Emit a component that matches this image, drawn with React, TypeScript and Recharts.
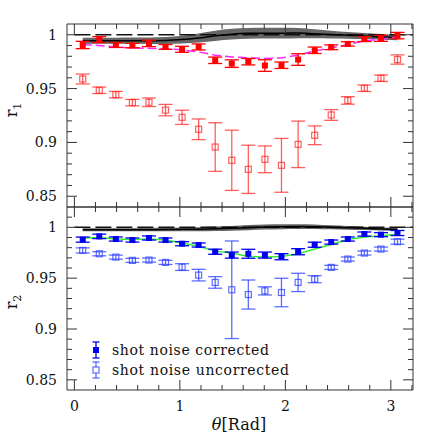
import {
  ComposedChart,
  XAxis,
  YAxis,
  Scatter,
  Line,
  Area,
  ErrorBar,
  ReferenceLine,
} from "recharts";

// angle bins (rad)
const theta = [
  0.079, 0.236, 0.393, 0.55, 0.707, 0.864, 1.021, 1.178, 1.335, 1.492,
  1.649, 1.806, 1.963, 2.121, 2.278, 2.435, 2.592, 2.749, 2.906, 3.063,
];

// r1 panel
const r1Corr = [
  0.9905, 0.9955, 0.9905, 0.99, 0.992, 0.9887, 0.9865, 0.9887, 0.9763, 0.9732,
  0.975, 0.9714, 0.9717, 0.977, 0.9856, 0.9884, 0.9915, 0.996, 0.9967, 0.9992,
];
const r1CorrErr = [
  0.0034, 0.0028, 0.0023, 0.002, 0.003, 0.0022, 0.0028, 0.0028, 0.003, 0.0035,
  0.003, 0.0054, 0.003, 0.0054, 0.003, 0.0022, 0.002, 0.0023, 0.0028, 0.003,
];
const r1Uncorr = [
  0.9589, 0.9484, 0.9444, 0.937, 0.9373, 0.93, 0.9233, 0.9122, 0.8957, 0.8834,
  0.875, 0.8843, 0.8787, 0.8982, 0.9066, 0.9255, 0.939, 0.9503, 0.9596, 0.977,
];
const r1UncorrErr = [
  0.0046, 0.003, 0.003, 0.003, 0.004, 0.0053, 0.0066, 0.0096, 0.0226, 0.028,
  0.0224, 0.0124, 0.025, 0.0216, 0.0087, 0.005, 0.0035, 0.003, 0.003, 0.0043,
];
const r1Fit = [
  0.991, 0.99, 0.9887, 0.9877, 0.9875, 0.987, 0.986, 0.984, 0.981, 0.9794,
  0.9785, 0.978, 0.9785, 0.9812, 0.985, 0.9877, 0.991, 0.9943, 0.996, 0.998,
];
const r1Model = [
  0.9945, 0.9945, 0.9945, 0.9945, 0.9945, 0.9947, 0.9955, 0.997, 0.999, 1.0005,
  1.0013, 1.0015, 1.0015, 1.0016, 1.0009, 1.0002, 0.9995, 0.9988, 0.998, 0.9974,
];
const r1ModelErr = [
  0.0028, 0.0028, 0.0028, 0.0029, 0.003, 0.0032, 0.0036, 0.0042, 0.0047, 0.005,
  0.005, 0.005, 0.005, 0.0048, 0.0042, 0.0036, 0.0031, 0.0028, 0.0026, 0.0025,
];

// r2 panel
const r2Corr = [
  0.9879, 0.9911, 0.9885, 0.9875, 0.9895, 0.9875, 0.9839, 0.9826, 0.976, 0.9727,
  0.974, 0.9727, 0.9711, 0.976, 0.9829, 0.9855, 0.9885, 0.9934, 0.9928, 0.9944,
];
const r2CorrErr = [
  0.0025, 0.0022, 0.002, 0.002, 0.002, 0.002, 0.002, 0.002, 0.0025, 0.003,
  0.0044, 0.003, 0.003, 0.003, 0.0025, 0.002, 0.002, 0.002, 0.002, 0.0025,
];
const r2Uncorr = [
  0.9773, 0.974, 0.9707, 0.9675, 0.9678, 0.9655, 0.9609, 0.953, 0.9458, 0.9386,
  0.9339, 0.9375, 0.9359, 0.9458, 0.949, 0.9606, 0.9688, 0.9747, 0.9786, 0.9859,
];
const r2UncorrErr = [
  0.0025, 0.002, 0.002, 0.002, 0.002, 0.002, 0.0033, 0.0057, 0.0057, 0.048,
  0.0143, 0.004, 0.014, 0.009, 0.0035, 0.002, 0.002, 0.002, 0.002, 0.0025,
];
const r2Fit = [
  0.9895, 0.99, 0.9885, 0.988, 0.9885, 0.9875, 0.9845, 0.9813, 0.9766, 0.9747,
  0.9714, 0.9708, 0.9714, 0.974, 0.9786, 0.9832, 0.988, 0.9905, 0.9918, 0.9931,
];
const r2Model = [
  0.9977, 0.9977, 0.9977, 0.9977, 0.9977, 0.9978, 0.998, 0.9982, 0.9986, 0.999,
  0.9997, 1.0003, 1.0006, 1.0007, 1.0006, 1.0, 0.9995, 0.999, 0.9983, 0.9978,
];
const r2ModelErr = [
  0.0015, 0.0015, 0.0015, 0.0015, 0.0016, 0.0017, 0.0018, 0.002, 0.0022, 0.0024,
  0.0025, 0.0025, 0.0025, 0.0024, 0.0022, 0.002, 0.0018, 0.0016, 0.0015, 0.0015,
];

// axes
const xTicks = [0, 0.2, 0.4, 0.6, 0.8, 1, 1.2, 1.4, 1.6, 1.8, 2, 2.2, 2.4, 2.6, 2.8, 3, 3.2];
const xLabels = [0, 1, 2, 3];
const yTicksTop = [
  0.85, 0.86, 0.87, 0.88, 0.89, 0.9, 0.91, 0.92, 0.93, 0.94, 0.95, 0.96, 0.97,
  0.98, 0.99, 1,
];
const yTicksBottom = [...yTicksTop, 1.01];
const yLabels = [0.85, 0.9, 0.95, 1];
const xDomain = [-0.07, 3.21];
const unitySegment = [
  { x: 0, y: 1 },
  { x: 3.21, y: 1 },
];

const data1 = theta.map((x, i) => ({
  x,
  corr: r1Corr[i],
  corrErr: r1CorrErr[i],
  uncorr: r1Uncorr[i],
  uncorrErr: r1UncorrErr[i],
  fit: r1Fit[i],
  mid: r1Model[i],
  band: [r1Model[i] - r1ModelErr[i], r1Model[i] + r1ModelErr[i]],
}));

const data2 = theta.map((x, i) => ({
  x,
  corr: r2Corr[i],
  corrErr: r2CorrErr[i],
  uncorr: r2Uncorr[i],
  uncorrErr: r2UncorrErr[i],
  fit: r2Fit[i],
  mid: r2Model[i],
  band: [r2Model[i] - r2ModelErr[i], r2Model[i] + r2ModelErr[i]],
}));

const AXIS = "#333";
const FONT = "'DejaVu Serif', serif";

type Side = "left" | "right" | "top" | "bottom";

function tickFor(side: Side, majors: number[], showLabels: boolean) {
  return (props: any) => {
    const { x, y, payload } = props;
    const v = payload.value as number;
    const major = majors.some((m) => Math.abs(m - v) < 1e-6);
    const len = major ? 10 : 5;
    let x2 = x;
    let y2 = y;
    if (side === "left") x2 = x + len;
    if (side === "right") x2 = x - len;
    if (side === "top") y2 = y + len;
    if (side === "bottom") y2 = y - len;
    return (
      <g>
        <line x1={x} y1={y} x2={x2} y2={y2} stroke={AXIS} strokeWidth={1} />
        {showLabels && major && side === "left" && (
          <text x={x - 10} y={y} textAnchor="end" dominantBaseline="central"
            fontFamily={FONT} fontSize={14} fill="#111">
            {String(v)}
          </text>
        )}
        {showLabels && major && side === "bottom" && (
          <text x={x} y={y + 16} textAnchor="middle" dominantBaseline="central"
            fontFamily={FONT} fontSize={14} fill="#111">
            {String(v)}
          </text>
        )}
      </g>
    );
  };
}

// height/width must be > 0 or recharts skips the axis
function axes(yDomain: number[], yTicks: number[], xLabelsOn: boolean) {
  return [
    <XAxis key="xb" xAxisId="b" dataKey="x" type="number" domain={xDomain}
      allowDataOverflow ticks={xTicks} interval={0} height={1} tickSize={0}
      tickMargin={0} tickLine={false} stroke={AXIS}
      tick={tickFor("bottom", xLabels, xLabelsOn)} />,
    <XAxis key="xt" xAxisId="t" orientation="top" dataKey="x" type="number"
      domain={xDomain} allowDataOverflow ticks={xTicks} interval={0} height={1}
      tickSize={0} tickMargin={0} tickLine={false} stroke={AXIS}
      tick={tickFor("top", xLabels, false)} />,
    <YAxis key="yl" yAxisId="l" type="number" domain={yDomain} allowDataOverflow
      ticks={yTicks} interval={0} width={67} tickSize={0} tickMargin={0}
      tickLine={false} stroke={AXIS} tick={tickFor("left", yLabels, true)} />,
    <YAxis key="yr" yAxisId="r" orientation="right" type="number" domain={yDomain}
      allowDataOverflow ticks={yTicks} interval={0} width={23} tickSize={0}
      tickMargin={0} tickLine={false} stroke={AXIS}
      tick={tickFor("right", yLabels, false)} />,
  ];
}

const filledSquare = (color: string) => (p: any) => (
  <rect x={p.cx - 3} y={p.cy - 3} width={6} height={6} fill={color} />
);
const openSquare = (color: string) => (p: any) => (
  <rect x={p.cx - 3} y={p.cy - 3} width={6} height={6} fill="none"
    stroke={color} strokeWidth={1.2} />
);

function series(fitColor: string, fitDash: string | undefined, corrColor: string, uncorrColor: string) {
  return [
    <ReferenceLine key="one" xAxisId="b" yAxisId="l" segment={unitySegment}
      stroke="#111" strokeWidth={1.5} strokeDasharray="16 5" ifOverflow="hidden" />,
    <Area key="band" xAxisId="b" yAxisId="l" dataKey="band" type="monotone"
      fill="#666" fillOpacity={1} stroke="none" isAnimationActive={false} />,
    <Line key="mid" xAxisId="b" yAxisId="l" dataKey="mid" type="monotone"
      stroke="#000" strokeWidth={1.5} dot={false} isAnimationActive={false} />,
    <Line key="fit" xAxisId="b" yAxisId="l" dataKey="fit" type="linear"
      stroke={fitColor} strokeWidth={1.5} strokeDasharray={fitDash} dot={false}
      isAnimationActive={false} />,
    <Scatter key="uncorr" xAxisId="b" yAxisId="l" dataKey="uncorr"
      shape={openSquare(uncorrColor)} isAnimationActive={false}>
      <ErrorBar dataKey="uncorrErr" direction="y" width={7} stroke={uncorrColor}
        strokeWidth={1.3} isAnimationActive={false} />
    </Scatter>,
    <Scatter key="corr" xAxisId="b" yAxisId="l" dataKey="corr"
      shape={filledSquare(corrColor)} isAnimationActive={false}>
      <ErrorBar dataKey="corrErr" direction="y" width={7} stroke={corrColor}
        strokeWidth={1.3} isAnimationActive={false} />
    </Scatter>,
  ];
}

export default function App() {
  return (
    <div style={{ position: "absolute", left: 0, top: 0, width: 436, height: 436, background: "#fff" }}>
      <div style={{ position: "absolute", left: 0, top: 0 }}>
        <ComposedChart width={436} height={210} data={data1}
          margin={{ top: 23, right: 0, bottom: 2, left: 0 }}>
          {axes([0.84, 1.01], yTicksTop, false)}
          {series("#ff22ff", "9 4", "#ff0000", "rgba(255,40,40,0.75)")}
        </ComposedChart>
      </div>
      <div style={{ position: "absolute", left: 0, top: 204 }}>
        <ComposedChart width={436} height={232} data={data2}
          margin={{ top: 2, right: 0, bottom: 45, left: 0 }}>
          {axes([0.84, 1.02], yTicksBottom, true)}
          {series("#33ee33", undefined, "#0000ee", "rgba(40,60,255,0.75)")}
        </ComposedChart>
      </div>
      <svg width={436} height={436}
        style={{ position: "absolute", left: 0, top: 0, pointerEvents: "none" }}>
        <text transform="translate(17,110) rotate(-90)" textAnchor="middle"
          fontFamily={FONT} fontSize={16} fill="#111">
          r<tspan dy={4} fontSize={11}>1</tspan>
        </text>
        <text transform="translate(17,302) rotate(-90)" textAnchor="middle"
          fontFamily={FONT} fontSize={16} fill="#111">
          r<tspan dy={4} fontSize={11}>2</tspan>
        </text>
        <text x={239} y={430} textAnchor="middle" fontFamily={FONT} fontSize={16} fill="#111">
          <tspan fontStyle="italic">θ</tspan>[Rad]
        </text>
        <g>
          <line x1={96} y1={342} x2={96} y2={358} stroke="#0000ee" strokeWidth={1.3} />
          <line x1={92.5} y1={342} x2={99.5} y2={342} stroke="#0000ee" strokeWidth={1.3} />
          <line x1={92.5} y1={358} x2={99.5} y2={358} stroke="#0000ee" strokeWidth={1.3} />
          <rect x={93} y={347} width={6} height={6} fill="#0000ee" />
          <text x={112} y={355} fontFamily={FONT} fontSize={14} fill="#111"
            textLength={157} lengthAdjust="spacing">shot noise corrected</text>
          <line x1={96} y1={362} x2={96} y2={378} stroke="rgba(40,60,255,0.75)" strokeWidth={1.3} />
          <line x1={92.5} y1={362} x2={99.5} y2={362} stroke="rgba(40,60,255,0.75)" strokeWidth={1.3} />
          <line x1={92.5} y1={378} x2={99.5} y2={378} stroke="rgba(40,60,255,0.75)" strokeWidth={1.3} />
          <rect x={93} y={367} width={6} height={6} fill="#fff"
            stroke="rgba(40,60,255,0.75)" strokeWidth={1.2} />
          <text x={112} y={375} fontFamily={FONT} fontSize={14} fill="#111"
            textLength={177} lengthAdjust="spacing">shot noise uncorrected</text>
        </g>
      </svg>
    </div>
  );
}
